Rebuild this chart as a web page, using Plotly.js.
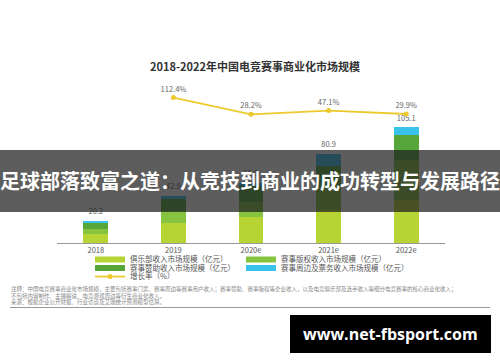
<!DOCTYPE html>
<html>
<head>
<meta charset="utf-8">
<script src="https://cdn.plot.ly/plotly-3.0.1.min.js"></script>
<style>html,body{margin:0;padding:0;background:#fff;}#chart{width:500px;height:362px;}</style>
</head>
<body>
<div id="chart"></div>
<script>
// ---- data ----
const years = ['2018', '2019', '2020e', '2021e', '2022e'];
const clubRevenue = [8.5, 18.5, 23.5, 30.0, 39.5];        // 俱乐部收入市场规模
const rightsRevenue = [4.5, 11.0, 14.0, 22.0, 36.0];      // 赛事版权收入市场规模
const sponsorRevenue = [5.2, 10.7, 14.0, 18.0, 23.0];     // 赛事赞助收入市场规模
const merchRevenue = [2.0, 2.7, 3.5, 10.9, 6.6];          // 赛事周边及票务收入市场规模
const totalLabels = ['20.2', '42.9', '55.0', '80.9', '105.1'];
const growthYears = ['2019', '2020e', '2021e', '2022e'];
const growthRate = [112.4, 28.2, 47.1, 29.9];
const seriesNames = ['俱乐部收入市场规模（亿元）', '赛事版权收入市场规模（亿元）', '赛事赞助收入市场规模（亿元）', '赛事周边及票务收入市场规模（亿元）', '增长率（%）'];
const titleText = '2018-2022年中国电竞赛事商业化市场规模';
const noteLines = [
  '注释：中国电竞赛事商业化市场规模，主要包括赛事门票、赛事周边等赛事用户收入；赛事赞助、赛事版权等企业收入，以及电竞俱乐部及选手收入等细分电竞赛事的核心商业化收入；',
  '不包括内容制作、主播解说、电竞游戏周边等衍生商业化收入。',
  '来源：根据企业公开财报、行业访谈及艾瑞统计预测模型估算。'
];
const bannerText = '足球部落致富之道：从竞技到商业的成功转型与发展路径';
const watermarkText = 'www.net-fbsport.com';

// ---- geometry helpers (pixel -> paper) ----
const PL = 57, PR = 445, PT = 80, PB = 243;
const fx = p => (p - PL) / (PR - PL);
const fy = p => (PB - p) / (PB - PT);
const FONT = '"Noto Sans CJK SC", "Noto Sans", sans-serif';

const totals = years.map((_, i) => clubRevenue[i] + rightsRevenue[i] + sponsorRevenue[i] + merchRevenue[i]);

const barColors = ['#b6d433', '#86c440', '#57a63a', '#38c2ec'];
const barSeries = [clubRevenue, rightsRevenue, sponsorRevenue, merchRevenue];
const legendFor = ['legend', 'legend', 'legend2', 'legend2'];
const legendWidths = [106, 160, 106, 160];

const traces = barSeries.map((vals, i) => ({
  type: 'bar', x: years, y: vals, name: seriesNames[i],
  marker: {color: barColors[i], line: {width: 0}},
  showlegend: false, hoverinfo: 'skip'
}));

// legend entries (flat swatches like the original legend)
barSeries.forEach((vals, i) => traces.push({
  type: 'scatter', mode: 'lines', x: [years[0]], y: [null], name: seriesNames[i],
  line: {color: barColors[i], width: 6}, legend: legendFor[i], legendwidth: legendWidths[i],
  hoverinfo: 'skip'
}));

traces.push({
  type: 'scatter', mode: 'markers+text', x: years, y: totals, text: totalLabels,
  marker: {size: 6, opacity: 0},
  textposition: 'top center', textfont: {size: 7.5, color: '#666', family: FONT},
  showlegend: false, hoverinfo: 'skip'
});

traces.push({
  type: 'scatter', mode: 'lines+markers+text', x: growthYears, y: growthRate, yaxis: 'y2',
  name: seriesNames[4], legend: 'legend3', legendwidth: 106,
  text: growthRate.map(v => v.toFixed(1) + '%'), textposition: 'top center',
  textfont: {size: 7.5, color: '#666', family: FONT},
  line: {color: '#ecc92c', width: 1.8}, marker: {color: '#ecc92c', size: 5},
  hoverinfo: 'skip'
});

const legendBase = {
  orientation: 'h', traceorder: 'normal',
  font: {size: 7.5, color: '#555', family: FONT},
  bgcolor: 'rgba(0,0,0,0)', xanchor: 'left', yanchor: 'middle', x: fx(90)
};

const annotations = [
  {text: '<b>' + bannerText + '</b>', xref: 'paper', yref: 'paper', x: fx(250), y: fy(180),
   xanchor: 'center', yanchor: 'middle', showarrow: false,
   font: {size: 20, color: '#ffffff', family: FONT}},
  {text: '<b>' + watermarkText + '</b>', xref: 'paper', yref: 'paper', x: fx(390), y: fy(334),
   xanchor: 'center', yanchor: 'middle', showarrow: false,
   font: {size: 16, color: '#ffffff', family: '"Open Sans", sans-serif'}}
];
const noteY = [289, 295.5, 302];
noteLines.forEach((t, i) => annotations.push({
  text: t, xref: 'paper', yref: 'paper', x: fx(10), y: fy(noteY[i]),
  xanchor: 'left', yanchor: 'middle', showarrow: false, borderpad: 0,
  font: {size: 5.5, color: '#888', family: FONT}
}));

const layout = {
  width: 500, height: 362,
  margin: {l: PL, r: 500 - PR, t: PT, b: 362 - PB},
  paper_bgcolor: '#fff', plot_bgcolor: '#fff',
  barmode: 'stack', bargap: 0.68,
  showlegend: true,
  title: {text: '<b>' + titleText + '</b>', x: 255 / 500, xanchor: 'center', xref: 'container',
          y: 1 - 67 / 362, yanchor: 'middle', yref: 'container',
          font: {size: 11, color: '#333', family: FONT}},
  xaxis: {type: 'category', categoryorder: 'array', categoryarray: years,
          showline: true, linecolor: '#999', linewidth: 1, ticks: '', showgrid: false,
          zeroline: false, tickfont: {size: 7.5, color: '#555', family: FONT}},
  yaxis: {range: [0, (PB - PT) / 1.1], visible: false, showgrid: false, zeroline: false},
  yaxis2: {overlaying: 'y', range: [-(PB - 120) / 0.2, (120 - PT) / 0.2], visible: false,
           showgrid: false, zeroline: false},
  legend: Object.assign({}, legendBase, {y: fy(259.5)}),
  legend2: Object.assign({}, legendBase, {y: fy(268)}),
  legend3: Object.assign({}, legendBase, {y: fy(276.5)}),
  shapes: [
    {type: 'rect', xref: 'paper', yref: 'paper', x0: fx(0), x1: fx(500), y0: fy(212), y1: fy(150),
     fillcolor: 'rgba(30,30,30,0.72)', line: {width: 0}, layer: 'above'},
    {type: 'line', xref: 'paper', yref: 'paper', x0: fx(10), x1: fx(490), y0: fy(307.5), y1: fy(307.5),
     line: {color: '#999', width: 1}},
    {type: 'rect', xref: 'paper', yref: 'paper', x0: fx(290), x1: fx(491), y0: fy(353), y1: fy(315),
     fillcolor: '#000', line: {width: 0}, layer: 'above'}
  ],
  annotations: annotations
};

Plotly.newPlot('chart', traces, layout, {displayModeBar: false, staticPlot: true});
</script>
</body>
</html>
